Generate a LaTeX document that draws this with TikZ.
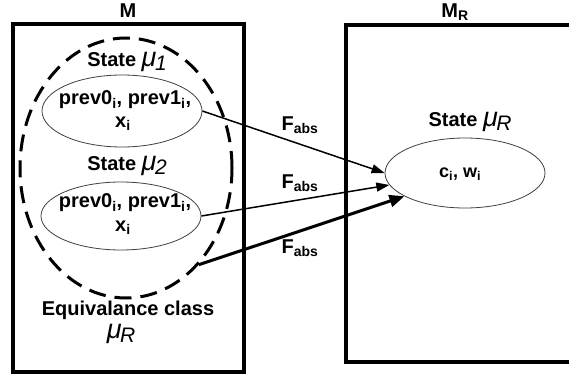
\documentclass[tikz,border=0pt]{standalone}
\usepackage{fontspec}
\setmainfont{Liberation Sans}
\usetikzlibrary{shapes.geometric,arrows.meta}
\newcommand{\mymu}[1]{{\mdseries\itshape\fontsize{27}{27}\selectfont μ\kern-1.5pt\raisebox{-4pt}{\fontsize{21}{21}\selectfont #1}}}
\tikzset{
  frame/.style={draw=black, line width=3.5pt},
  lbl/.style={font=\bfseries\fontsize{20}{23}\selectfont, inner sep=0pt, align=center},
  st/.style={ellipse, draw=black!75, line width=0.8pt, minimum width=160pt, inner sep=0pt},
  eq/.style={ellipse, draw=black, line width=3pt, dash pattern=on 17pt off 9pt, minimum width=212pt, minimum height=260pt, inner sep=0pt},
  thin arrow/.style={line width=1.5pt, -{Triangle[length=13pt,width=9pt]}},
  thick arrow/.style={line width=3pt, -{Triangle[length=15pt,width=12pt]}}
}
\begin{document}
\begin{tikzpicture}[x=1pt,y=-1pt]
\useasboundingbox (0,0) rectangle (569,377);
\fill[white] (0,0) rectangle (569,377);
% boxes
\draw[frame] (13,24) rectangle (244,372);
\draw[frame] (346,25) rectangle (580,362);
\node[lbl] (mlab) at (128,11) {M};
\node[lbl] (mrlab) at (455,12) {M\textsubscript{R}};
% dashed equivalence class
\node[eq] (eq) at (126,168) {};
% state 1
\node[st, minimum height=72pt] (e1) at (122,111) {};
\node[lbl] (t1) at (127,62) {State \mymu{1}};
\node[lbl] (p1) at (125,100) {prev0\textsubscript{i}, prev1\textsubscript{i},};
\node[lbl] (x1) at (123,124) {x\textsubscript{i}};
% state 2
\node[st, minimum height=68pt] (e2) at (121,216) {};
\node[lbl] (t2) at (127,166) {State \mymu{2}};
\node[lbl] (p2) at (125,203) {prev0\textsubscript{i}, prev1\textsubscript{i},};
\node[lbl] (x2) at (123,228) {x\textsubscript{i}};
% equivalence label
\node[lbl] (eqlab) at (128,310) {Equivalance class};
\node[lbl] (eqmu) at (121,334) {\mymu{R}};
% right state
\node[st, minimum height=70pt] (er) at (465,173) {};
\node[lbl] (tr) at (470,122) {State \mymu{R}};
\node[lbl] (cw) at (460,174) {\fontsize{18}{20}\selectfont c\textsubscript{i}, w\textsubscript{i}};
% arrows
\draw[thin arrow] (e1.east) -- (er.180);
\draw[thin arrow] (e2.east) -- (er.189);
\draw[thick arrow] (eq.-53.6) -- (er.201);
\node[lbl] (f1) at (300,125) {F\textsubscript{abs}};
\node[lbl] (f2) at (300,183) {F\textsubscript{abs}};
\node[lbl] (f3) at (300,248) {F\textsubscript{abs}};
\end{tikzpicture}
\end{document}
